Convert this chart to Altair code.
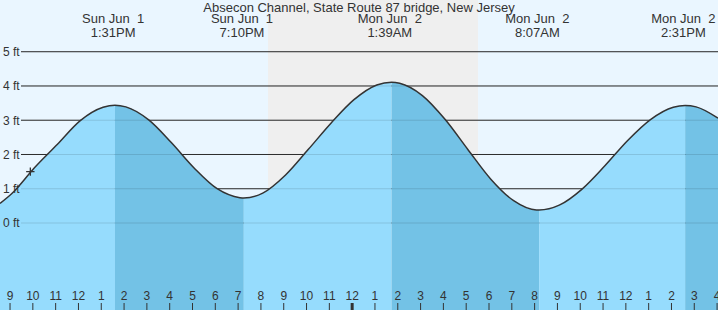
import altair as alt
import pandas as pd

# ---- data ----
# time in hours since Sun Jun 1 00:00, water level in ft
times = [8.56, 9.08, 10.08, 11.08, 12.08, 13.08, 13.60, 14.08, 15.08, 16.08, 17.08, 18.08, 19.08, 19.25,
         20.08, 21.08, 22.08, 23.08, 24.08, 25.08, 25.73, 26.08, 27.08, 28.08, 29.08, 30.08, 31.08,
         32.08, 32.20, 33.08, 34.08, 35.08, 36.08, 37.08, 38.08, 38.60, 39.08, 40.04]
heights = [0.57, 0.86, 1.62, 2.30, 2.99, 3.38, 3.44, 3.39, 3.01, 2.34, 1.60, 1.00, 0.74, 0.73,
           0.87, 1.40, 2.15, 2.92, 3.60, 4.03, 4.11, 4.08, 3.72, 3.02, 2.14, 1.28, 0.65,
           0.38, 0.38, 0.52, 0.99, 1.67, 2.41, 3.02, 3.38, 3.43, 3.39, 3.06]

ext_times = [13.52, 19.17, 25.65, 32.12, 38.52]
ext_dates = ["Sun Jun\u00a0 1", "Sun Jun\u00a0 1", "Mon Jun\u00a0 2", "Mon Jun\u00a0 2", "Mon Jun\u00a0 2"]
ext_labels = ["1:31PM", "7:10PM", "1:39AM", "8:07AM", "2:31PM"]

seg_bounds = [8.56, 13.60, 19.25, 25.73, 32.20, 38.60, 40.04]
seg_phase = ["rise", "fall", "rise", "fall", "rise", "fall"]

night = [20.31, 29.52]
now_t = [9.89]
now_h = [1.50]

hour_ticks = list(range(9, 41))
hour_labels = ["9", "10", "11", "12", "1", "2", "3", "4", "5", "6", "7", "8", "9", "10", "11",
               "12", "1", "2", "3", "4", "5", "6", "7", "8", "9", "10", "11", "12", "1", "2",
               "3", "4"]
midnight = [24]

ft_levels = [0, 1, 2, 3, 4, 5]
ft_labels = ["0 ft", "1 ft", "2 ft", "3 ft", "4 ft", "5 ft"]

title = "Absecon Channel, State Route 87 bridge, New Jersey"

# ---- tables ----
curve = pd.DataFrame({"t": times, "h": heights})
rows = []
for i in range(len(seg_phase)):
    for t, h in zip(times, heights):
        if seg_bounds[i] <= t <= seg_bounds[i + 1]:
            rows.append({"t": t, "h": h, "seg": i, "phase": seg_phase[i]})
segs = pd.DataFrame(rows)
ext = pd.DataFrame({"t": ext_times, "d": ext_dates, "l": ext_labels})
nightdf = pd.DataFrame({"a": [night[0]], "b": [night[1]]})
nowdf = pd.DataFrame({"t": now_t, "h": now_h})
ticks = pd.DataFrame({"t": hour_ticks, "lab": hour_labels})
ticks["mid"] = ticks["t"].isin(midnight)
grid = pd.DataFrame({"h": ft_levels, "lab": ft_labels})

FONT = "Liberation Sans"
TXT = "#333333"
X = alt.Scale(domain=[8.56, 40.04], nice=False, zero=False)
Y = alt.Scale(domain=[-2.54, 6.51], nice=False, zero=False)

night_rect = alt.Chart(nightdf).mark_rect(color="#efefef").encode(
    x=alt.X("a:Q", scale=X, axis=None), x2="b:Q",
    y=alt.value(0), y2=alt.value(310))

grid_dark = alt.Chart(grid).mark_rule(color="#333333", strokeWidth=1).encode(
    y=alt.Y("h:Q", scale=Y, axis=None), x=alt.value(21), x2=alt.value(718))

water = alt.Chart(segs).mark_area(interpolate="monotone", opacity=1).encode(
    x=alt.X("t:Q", scale=X, axis=None),
    y=alt.Y("h:Q", scale=Y, axis=None, stack=None),
    y2=alt.value(310),
    detail="seg:N",
    color=alt.Color("phase:N", scale=alt.Scale(domain=["rise", "fall"],
                                                range=["#96dcfd", "#73c2e6"]), legend=None))

grid_faint = alt.Chart(grid).mark_rule(color="#000000", opacity=0.12, strokeWidth=1).encode(
    y=alt.Y("h:Q", scale=Y, axis=None), x=alt.value(21), x2=alt.value(718))

line = alt.Chart(curve).mark_line(interpolate="monotone", color="#333333", strokeWidth=1.5).encode(
    x=alt.X("t:Q", scale=X, axis=None), y=alt.Y("h:Q", scale=Y, axis=None))

cross = alt.Chart(nowdf).mark_point(shape="M-1,0L1,0M0,-1L0,1", filled=False, color="#333333",
                                     strokeWidth=1.3, size=70, opacity=1).encode(
    x=alt.X("t:Q", scale=X, axis=None), y=alt.Y("h:Q", scale=Y, axis=None))

tick_rules = alt.Chart(ticks).mark_rule(color="#333333").encode(
    x=alt.X("t:Q", scale=X, axis=None), y=alt.value(303), y2=alt.value(310),
    strokeWidth=alt.condition("datum.mid", alt.value(3), alt.value(1)))

tick_text = alt.Chart(ticks).mark_text(font=FONT, fontSize=12, color=TXT, baseline="alphabetic").encode(
    x=alt.X("t:Q", scale=X, axis=None), y=alt.value(300), text="lab:N")

ylab = alt.Chart(grid).mark_text(font=FONT, fontSize=12, color=TXT, align="left",
                                 baseline="alphabetic", dy=4.5).encode(
    x=alt.value(3), y=alt.Y("h:Q", scale=Y, axis=None), text="lab:N")

ext_d = alt.Chart(ext).mark_text(font=FONT, fontSize=13, color=TXT, baseline="alphabetic").encode(
    x=alt.X("t:Q", scale=X, axis=None), y=alt.value(23), text="d:N")
ext_l = alt.Chart(ext).mark_text(font=FONT, fontSize=13, color=TXT, baseline="alphabetic").encode(
    x=alt.X("t:Q", scale=X, axis=None), y=alt.value(37), text="l:N")

title_t = alt.Chart(pd.DataFrame({"s": [title]})).mark_text(
    font=FONT, fontSize=13, color=TXT, baseline="alphabetic").encode(
    x=alt.value(359), y=alt.value(12), text="s:N")

chart = alt.layer(night_rect, grid_dark, water, grid_faint, line, cross,
                  tick_rules, tick_text, ylab, ext_d, ext_l, title_t).properties(
    width=718, height=310, autosize=alt.AutoSizeParams(type="none"), padding=0,
    background="#eaf6ff"
).configure_view(strokeWidth=0, fill="#eaf6ff")

chart.save("out.html", embed_options={"renderer": "svg", "actions": False})
